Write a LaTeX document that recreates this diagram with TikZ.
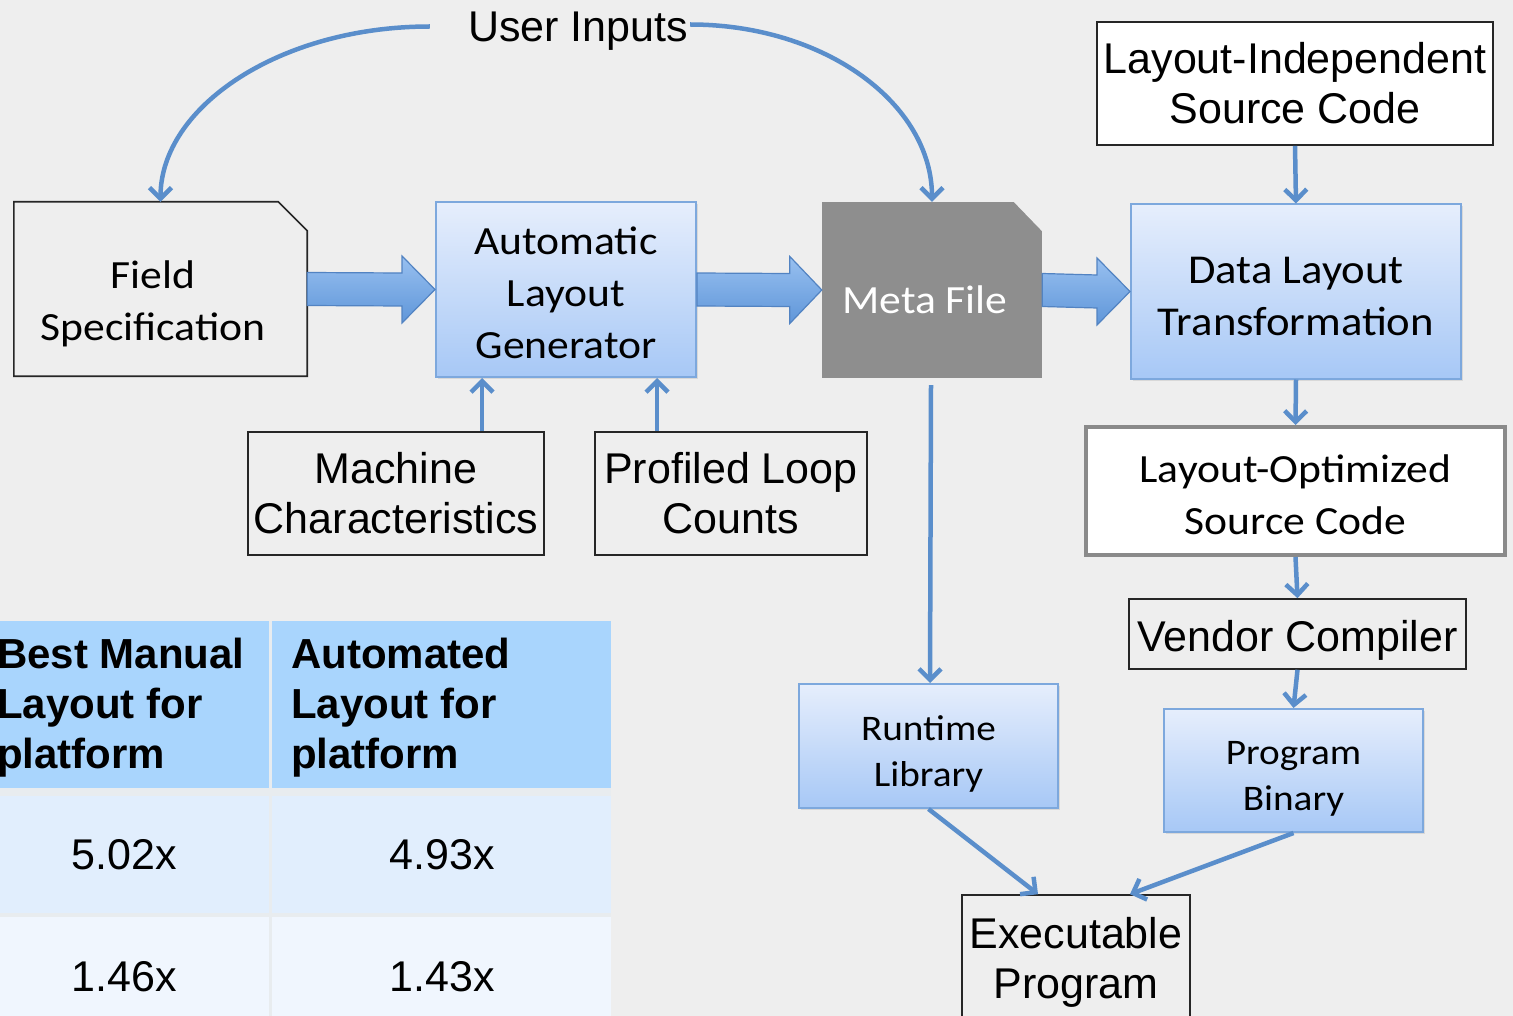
\documentclass[tikz,border=0pt]{standalone}
\usepackage{fontspec}
\setmainfont{Liberation Sans}
\newfontfamily\calfont[FakeStretch=1.09]{Carlito}
\usepackage{tikz}
\usetikzlibrary{arrows.meta,positioning,calc,shadows}
\usepackage{xcolor}

\definecolor{bgcol}{HTML}{EEEEEE}
\definecolor{conncol}{HTML}{5A8ECB}
\definecolor{boxtop}{HTML}{E6EEFC}
\definecolor{boxbot}{HTML}{A7C8F6}
\definecolor{boxline}{HTML}{7DA8DD}
\definecolor{arrtop}{HTML}{98C0F0}
\definecolor{arrbot}{HTML}{5F96D9}
\definecolor{arrline}{HTML}{5283C2}
\definecolor{metagray}{HTML}{8E8E8E}
\definecolor{optline}{HTML}{8A8A8A}
\definecolor{tabsep}{HTML}{E8ECEF}
\definecolor{tabhead}{HTML}{A9D5FD}
\definecolor{tabrowa}{HTML}{E1EEFD}
\definecolor{tabrowb}{HTML}{F0F6FE}

\tikzset{
    arialtxt/.style={font=\fontsize{43}{50}\selectfont},
    caltxt/.style={font=\calfont\fontsize{40}{52}\selectfont},
    calsmall/.style={font=\calfont\fontsize{36}{46}\selectfont},
    plainbox/.style={inner sep=0pt, align=center},
    blkbox/.style={plainbox, draw=black!85, line width=1.6pt},
    bluebox/.style={plainbox, draw=boxline, line width=2pt, top color=boxtop, bottom color=boxbot,
        drop shadow={shadow xshift=2pt, shadow yshift=-2pt, opacity=0.2}},
    conn/.style={draw=conncol, line width=4.5pt, -{Straight Barb[length=11pt,width=22pt]}},
    bigarrow/.style={draw=arrline, line width=1.2pt, top color=arrtop, bottom color=arrbot}
}

\begin{document}
\begin{tikzpicture}[x=1pt,y=-1pt]
    % 画布
    \useasboundingbox (0,0) rectangle (1513,1016);
    \clip (0,0) rectangle (1513,1016);
    \fill[bgcol] (0,0) rectangle (1513,1016);

    % 顶部输入
    \node[plainbox, arialtxt] (ui) at (578,31.5) {User Inputs};

    % 第一行
    \node[plainbox, caltxt, text=black,
        minimum width=293pt, minimum height=174pt] (fs) at (160.5,289)
        {\rule{0pt}{57pt}Field\rule{15pt}{0pt}\\Specification\rule{15pt}{0pt}};
    \draw[black!85, line width=1.6pt] (fs.south west) -- (fs.north west) -- ([xshift=-29pt]fs.north east)
        -- ([yshift=-29pt]fs.north east) -- (fs.south east) -- cycle;

    \node[bluebox, caltxt, minimum width=260pt, minimum height=175pt] (alg) at (566,289.5)
        {\rule{0pt}{34pt}Automatic\\Layout\\Generator};

    \node[plainbox, caltxt, fill=metagray, text=white,
        minimum width=220pt, minimum height=176pt] (meta) at (932,290)
        {\rule{0pt}{47pt}Meta File\rule{14pt}{0pt}};
    \fill[bgcol] ([xshift=-29pt,yshift=0.5pt]meta.north east) -- ([xshift=0.5pt,yshift=0.5pt]meta.north east)
        -- ([xshift=0.5pt,yshift=-30pt]meta.north east) -- cycle;

    \node[bluebox, caltxt, font=\calfont\fontsize{41}{52}\selectfont,
        minimum width=330pt, minimum height=174pt] (dlt) at (1296,291.5)
        {\rule{0pt}{36pt}Data Layout\\Transformation};

    % 右列
    \node[blkbox, arialtxt, fill=white, minimum width=396pt, minimum height=123pt] (lis) at (1295,83.5)
        {Layout-Independent\\Source Code};
    \node[plainbox, caltxt, draw=optline, line width=4pt, fill=white,
        minimum width=419pt, minimum height=128pt] (los) at (1295.5,491)
        {\rule{0pt}{35pt}Layout-Optimized\\Source Code};
    \node[blkbox, arialtxt, minimum width=337pt, minimum height=70pt] (vc) at (1297.5,634)
        {\rule{0pt}{44pt}Vendor Compiler};
    \node[bluebox, calsmall, minimum width=259pt, minimum height=123pt] (pb) at (1293.5,770.5)
        {\rule{0pt}{40pt}Program\\Binary};
    \node[bluebox, calsmall, minimum width=259pt, minimum height=124pt] (rt) at (928.5,746)
        {\rule{0pt}{40pt}Runtime\\Library};
    \node[blkbox, arialtxt, minimum width=228pt, minimum height=135.5pt] (ex) at (1076,962.75)
        {Executable\\Program};

    % 输入框
    \node[blkbox, arialtxt, minimum width=296pt, minimum height=123pt] (mc) at (396,493.5)
        {Machine\\Characteristics};
    \node[blkbox, arialtxt, minimum width=272pt, minimum height=123pt] (plc) at (731,493.5)
        {Profiled Loop\\Counts};

    % 粗箭头
    \draw[bigarrow] ([yshift=16.5pt]fs.east) -- ([xshift=-33pt,yshift=16.5pt]alg.west)
        -- ([xshift=-33pt,yshift=33.5pt]alg.west) -- (alg.west) -- ([xshift=-33pt,yshift=-33.5pt]alg.west)
        -- ([xshift=-33pt,yshift=-16.5pt]alg.west) -- ([yshift=-16.5pt]fs.east) -- cycle;
    \draw[bigarrow] ([yshift=16.5pt]alg.east) -- ([xshift=-32pt,yshift=16.5pt]meta.west)
        -- ([xshift=-32pt,yshift=33.5pt]meta.west) -- (meta.west) -- ([xshift=-32pt,yshift=-33.5pt]meta.west)
        -- ([xshift=-32pt,yshift=-16.5pt]meta.west) -- ([yshift=-16.5pt]alg.east) -- cycle;
    \draw[bigarrow] ([yshift=16.5pt]meta.east) -- ([xshift=-33pt,yshift=16.5pt]dlt.west)
        -- ([xshift=-33pt,yshift=33.5pt]dlt.west) -- (dlt.west) -- ([xshift=-33pt,yshift=-33.5pt]dlt.west)
        -- ([xshift=-33pt,yshift=-16.5pt]dlt.west) -- ([yshift=-16.5pt]meta.east) -- cycle;

    % 连线
    \draw[conn] ([xshift=-38pt,yshift=5pt]ui.west) .. controls +(-150,0) and +(0,-95) .. (fs.north);
    \draw[conn] ([xshift=2pt,yshift=7pt]ui.east) .. controls +(135,0) and +(0,-98) .. (meta.north);
    \draw[conn] ([xshift=86pt]mc.north) -- ([xshift=-84pt]alg.south);
    \draw[conn] ([xshift=-74pt]plc.north) -- ([xshift=91pt]alg.south);
    \draw[conn] (lis.south) -- (dlt.north);
    \draw[conn] (dlt.south) -- (los.north);
    \draw[conn] (los.south) -- (vc.north);
    \draw[conn] (vc.south) -- (pb.north);
    \draw[conn] ([xshift=-1pt,yshift=-7pt]meta.south) -- ([xshift=1.5pt]rt.north);
    \draw[conn] (rt.south) -- ([xshift=-38pt]ex.north);
    \draw[conn] (pb.south) -- ([xshift=54pt]ex.north);

    % 表格
    \fill[tabsep] (0,621) rectangle (611,1016);
    \foreach \xa/\xb in {0/268.5,272/611} {
        \fill[tabhead] (\xa,621) rectangle (\xb,788);
        \fill[tabrowa] (\xa,796) rectangle (\xb,913);
        \fill[tabrowb] (\xa,916.5) rectangle (\xb,1016);
    }
    \node[plainbox, align=left, anchor=west, font=\bfseries\fontsize{42}{50}\selectfont] (hda) at (-3,708)
        {Best Manual\\Layout for\\platform};
    \node[plainbox, align=left, anchor=west, font=\bfseries\fontsize{42}{50}\selectfont] (hdb) at (291,708)
        {Automated\\Layout for\\platform};
    \node[plainbox, arialtxt] (caa) at (124,855) {5.02x};
    \node[plainbox, arialtxt] (cab) at (442,855) {4.93x};
    \node[plainbox, arialtxt] (cba) at (124,977) {1.46x};
    \node[plainbox, arialtxt] (cbb) at (442,977) {1.43x};
\end{tikzpicture}
\end{document}
